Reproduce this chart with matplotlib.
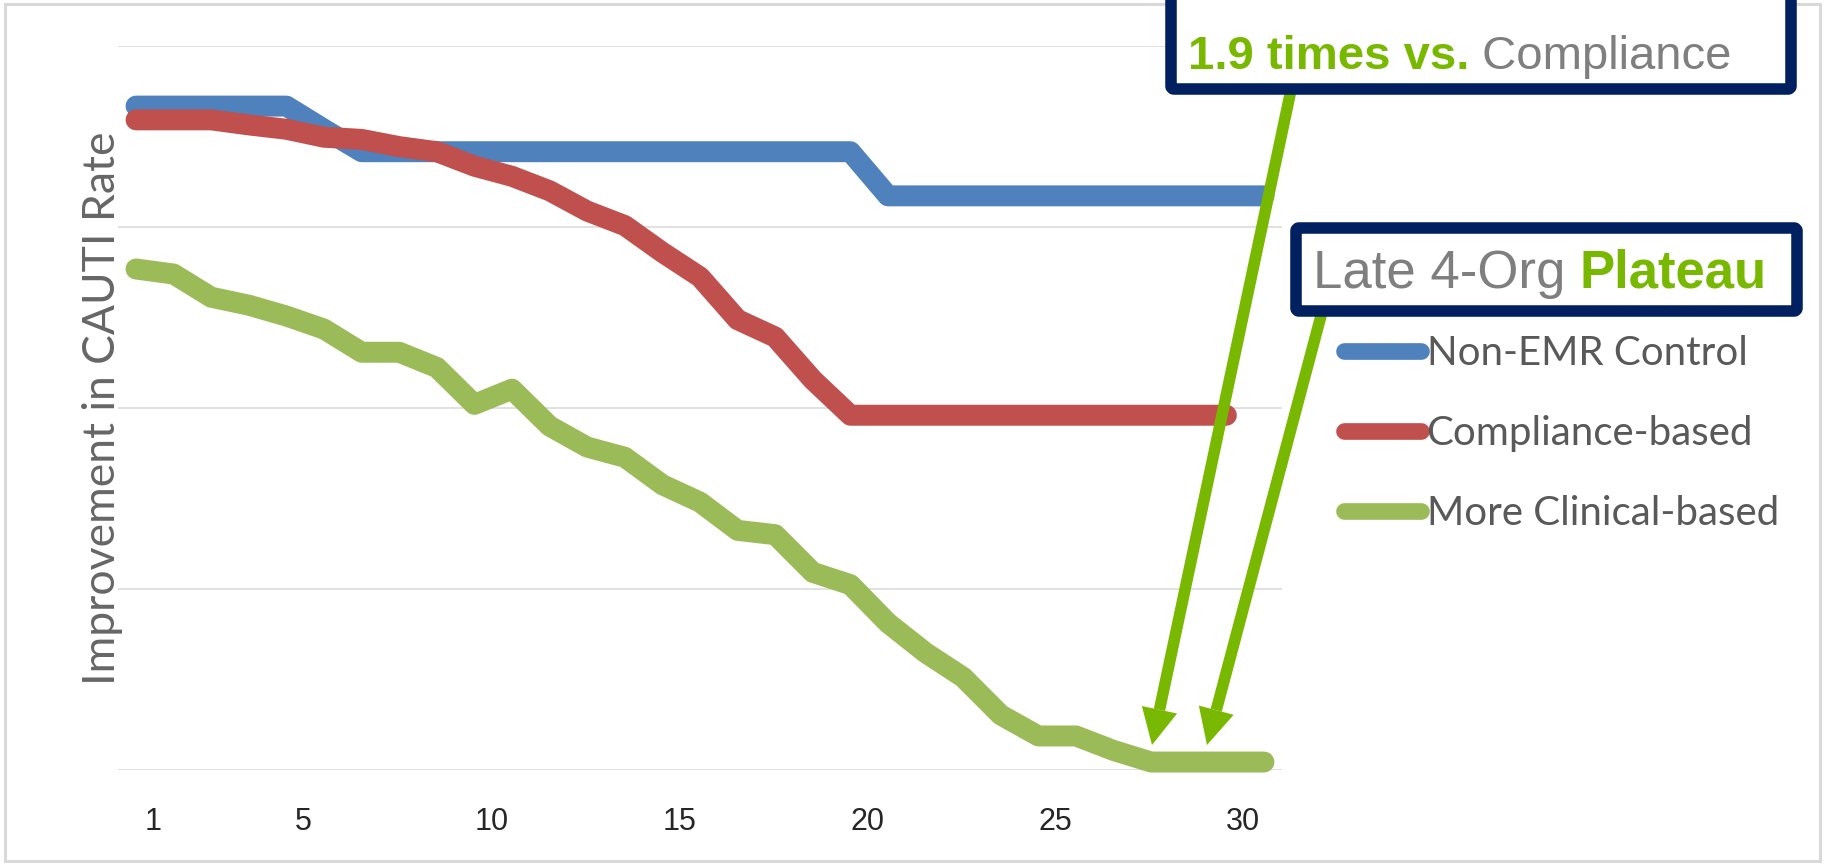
import matplotlib
matplotlib.use("Agg")
import matplotlib.pyplot as plt
import matplotlib.patches as mpatches
import numpy as np

W, H = 1825, 865

# improvement index per reporting period (gridline spacing = 25)
periods = list(range(1, 32))
non_emr = [91.7, 91.7, 91.7, 91.7, 91.7, 88.5, 85.4, 85.4, 85.4, 85.4,
           85.4, 85.4, 85.4, 85.4, 85.4, 85.4, 85.4, 85.4, 85.4, 85.4,
           79.3, 79.3, 79.3, 79.3, 79.3, 79.3, 79.3, 79.3, 79.3, 79.3, 79.3]
compliance = [89.8, 89.8, 89.8, 89.1, 88.5, 87.4, 87.1, 86.1, 85.4, 83.4,
              82.0, 80.0, 77.2, 75.2, 71.5, 68.1, 62.2, 59.8, 53.9, 49.0,
              49.0, 49.0, 49.0, 49.0, 49.0, 49.0, 49.0, 49.0, 49.0, 49.0]
clinical = [69.2, 68.5, 65.3, 64.2, 62.7, 60.9, 57.7, 57.7, 55.6, 50.5,
            52.6, 47.5, 44.6, 43.2, 39.4, 37.0, 33.1, 32.5, 27.3, 25.6,
            20.3, 16.2, 12.8, 7.6, 4.7, 4.7, 2.7, 1.1, 1.1, 1.1, 1.1]

series_names = ["Non-EMR Control", "Compliance-based", "More Clinical-based"]
series_colors = ["#4F81BD", "#C0504D", "#9BBB59"]
tick_values = [1, 5, 10, 15, 20, 25, 30]

NAVY = "#002060"
LIME = "#78B800"
GREY = "#7F7F7F"

fig = plt.figure(figsize=(W / 100, H / 100), dpi=100)
fig.patch.set_facecolor("white")

ax = fig.add_axes([118 / W, (H - 770) / H, (1282 - 118) / W, (770 - 46) / H])
lines = []
for vals, name, col in zip([non_emr, compliance, clinical], series_names, series_colors):
    ln, = ax.plot(periods[:len(vals)], vals, color=col, lw=15.1, label=name,
                  solid_capstyle="round", solid_joinstyle="round", clip_on=False)
    lines.append(ln)

ax.set_xlim(0.52, 31.48)
ax.set_ylim(0, 100)
ax.set_yticks([0, 25, 50, 75, 100])
ax.set_yticklabels([])
ax.yaxis.grid(True, color="#D9D9D9", lw=1.1)
ax.set_axisbelow(True)
for s in ax.spines.values():
    s.set_visible(False)

# labels sit a little right of their points
ax.set_xticks(np.array(tick_values) + 0.45)
ax.set_xticklabels([str(v) for v in tick_values], fontsize=22,
                   family="Liberation Sans", color="#262626")
ax.tick_params(axis="both", length=0)
ax.tick_params(axis="x", pad=27)

ax.set_ylabel("Improvement in CAUTI Rate", fontsize=32, family="Lato", color="#666666")
ax.yaxis.set_label_coords(0.004, 0.5)

leg = fig.legend(handles=lines, loc="upper left",
                 bbox_to_anchor=(1344 / W, 1 - 335 / H), frameon=False,
                 prop={"family": "Lato", "size": 29}, labelcolor="#595959",
                 handlelength=1.9, handletextpad=0.15, labelspacing=1.07,
                 borderpad=0, borderaxespad=0)
for h in leg.get_lines():
    h.set_linewidth(12)
    h.set_solid_capstyle("round")

# overlay in pixel coordinates for the frame, callouts and arrows
ov = fig.add_axes([0, 0, 1, 1], zorder=10)
ov.set_xlim(0, W)
ov.set_ylim(H, 0)
ov.axis("off")

ov.add_patch(mpatches.Rectangle((5, 4), W - 10, H - 8, fc="none", ec="#D9D9D9", lw=2.2))


def arrow(x0, y0, x1, y1, head_len=36, head_w=36):
    d = np.array([x1 - x0, y1 - y0], float)
    u = d / np.hypot(*d)
    n = np.array([-u[1], u[0]])
    base = np.array([x1, y1]) - u * head_len
    ov.plot([x0, base[0]], [y0, base[1]], color=LIME, lw=8.3, solid_capstyle="butt", zorder=2)
    tri = [[x1, y1], base + n * head_w / 2, base - n * head_w / 2]
    ov.add_patch(mpatches.Polygon(tri, closed=True, fc=LIME, ec="none", zorder=2))


arrow(1291, 90, 1152, 745)
arrow(1322, 312, 1207, 745)

for (bx0, by0, bx1, by1) in [(1171, -40, 1791, 89), (1296, 228, 1797, 311)]:
    ov.add_patch(mpatches.FancyBboxPatch((bx0, by0), bx1 - bx0, by1 - by0,
                                         boxstyle="round,pad=0,rounding_size=3",
                                         fc="white", ec=NAVY, lw=8.3, zorder=3,
                                         joinstyle="round"))

t1 = ov.text(1188, 69, "1.9 times vs.", fontsize=34, family="Liberation Sans",
             weight="bold", color=LIME, va="baseline", zorder=4)
ov.annotate(" Compliance", xy=(1, 0), xycoords=t1, fontsize=34, family="Liberation Sans",
            color=GREY, ha="left", va="bottom", zorder=4)

t2 = ov.text(1313, 288, "Late 4-Org ", fontsize=38, family="Liberation Sans",
             color=GREY, va="baseline", zorder=4)
ov.annotate("Plateau", xy=(1, 0), xycoords=t2, fontsize=38, family="Liberation Sans",
            weight="bold", color=LIME, ha="left", va="bottom", zorder=4)

fig.savefig("out.png", dpi=100)
